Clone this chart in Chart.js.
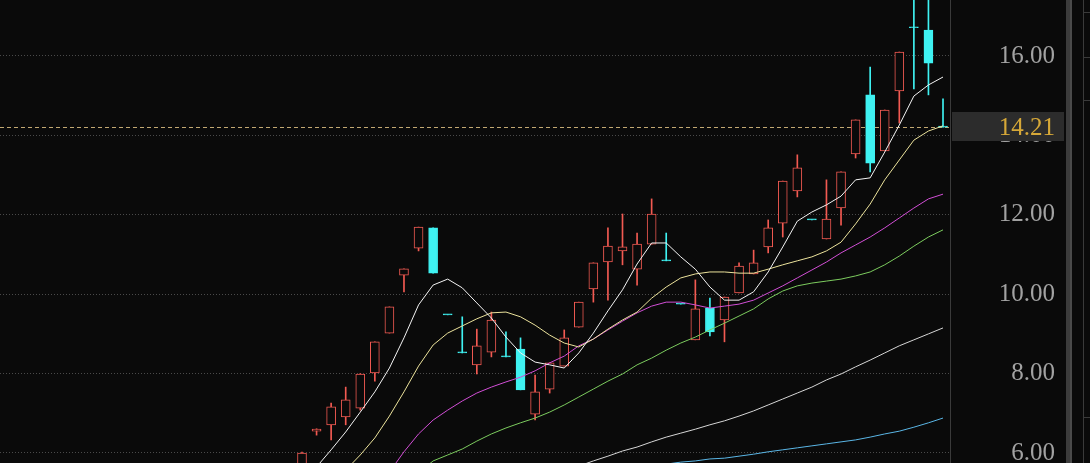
<!DOCTYPE html>
<html><head><meta charset="utf-8">
<script src="https://cdn.jsdelivr.net/npm/chart.js@4"></script>
<style>html,body{margin:0;padding:0;background:#0a0a0a;overflow:hidden}canvas{display:block}</style>
</head><body>
<canvas id="c" width="1090" height="463"></canvas>
<script>
// ---- data ----
const days = [0,1,2,3,4,5,6,7,8,9,10,11,12,13,14,15,16,17,18,19,20,21,22,23,24,25,26,27,28,29,30,31,32,33,34,35,36,37,38,39,40,41,42,43,44];
const opens  = [5.62,6.55,6.71,6.91,7.13,8.02,9.02,10.48,11.16,11.67,9.48,8.52,8.22,8.54,8.42,8.62,6.98,7.61,8.19,9.17,10.13,10.81,11.09,10.63,11.26,10.84,9.75,8.85,9.65,9.35,10.03,10.51,11.19,11.79,12.60,11.87,11.39,12.17,13.53,15.02,13.61,15.12,16.71,16.65,14.21];
const highs  = [6.02,6.61,7.26,7.66,8.00,8.80,9.68,10.64,11.69,11.67,9.48,9.43,9.12,9.55,9.05,8.90,7.96,8.27,9.10,9.80,10.79,11.67,12.02,11.54,12.40,11.54,9.75,10.36,9.90,9.93,10.79,11.11,11.87,12.85,13.51,11.87,12.88,13.08,14.39,15.72,14.64,16.10,17.80,17.80,14.92];
const lows   = [5.55,6.45,6.33,6.71,7.08,7.81,9.02,10.06,11.09,10.53,9.48,8.52,7.99,8.42,8.42,7.59,6.83,7.51,8.19,9.17,9.80,9.85,10.74,10.23,11.26,10.84,9.75,8.85,8.95,8.80,10.03,10.51,11.04,11.44,12.45,11.87,11.39,11.74,13.43,13.08,13.61,14.31,15.17,15.02,14.21];
const closes = [6.00,6.60,7.16,7.34,7.99,8.80,9.68,10.64,11.69,10.53,9.48,8.52,8.70,9.35,8.42,7.59,7.54,8.27,8.90,9.80,10.79,11.21,11.19,11.26,12.02,10.84,9.75,9.63,9.05,9.93,10.71,10.79,11.67,12.85,13.18,11.87,11.89,13.08,14.39,13.30,14.64,16.10,16.71,15.82,14.21];

const ma5   = [5.19,5.65,6.08,6.53,7.03,7.54,8.14,8.90,9.73,10.23,10.38,10.16,9.78,9.40,8.92,8.52,8.29,8.22,8.14,8.52,9.02,9.58,10.11,10.76,11.29,11.29,10.94,10.63,10.18,9.85,9.85,10.06,10.56,11.19,11.84,12.07,12.25,12.47,12.88,12.93,13.58,14.26,14.99,15.27,15.47];
const ma10  = [null,null,5.14,5.57,5.95,6.38,6.93,7.54,8.19,8.72,9.02,9.20,9.38,9.53,9.55,9.43,9.22,8.97,8.77,8.67,8.87,9.12,9.35,9.55,9.90,10.18,10.41,10.51,10.56,10.56,10.53,10.53,10.63,10.74,10.84,10.94,11.09,11.31,11.77,12.27,12.88,13.38,13.88,14.11,14.24];
const ma20  = [null,null,null,null,4.61,5.07,5.52,6.03,6.48,6.83,7.08,7.31,7.51,7.66,7.79,7.91,8.07,8.27,8.44,8.70,8.87,9.10,9.32,9.53,9.70,9.80,9.80,9.73,9.65,9.70,9.75,9.85,10.03,10.21,10.41,10.61,10.81,11.04,11.24,11.44,11.67,11.92,12.17,12.40,12.52];
const ma30  = [null,null,null,null,null,null,null,null,5.50,5.80,5.95,6.10,6.30,6.48,6.63,6.76,6.88,7.03,7.21,7.41,7.61,7.81,7.99,8.22,8.39,8.59,8.77,8.92,9.10,9.27,9.45,9.63,9.88,10.08,10.21,10.28,10.33,10.38,10.46,10.56,10.74,10.96,11.21,11.44,11.62];
const ma60  = [null,null,null,null,null,null,null,null,null,null,null,null,null,null,null,null,null,5.42,5.55,5.67,5.80,5.92,6.05,6.15,6.28,6.40,6.50,6.60,6.71,6.81,6.93,7.06,7.21,7.36,7.51,7.66,7.84,7.99,8.17,8.34,8.52,8.70,8.85,9.00,9.15];
const ma120 = [null,null,null,null,null,null,null,null,null,null,null,null,null,null,null,null,null,null,null,null,null,null,null,5.52,5.62,5.72,5.77,5.80,5.85,5.87,5.92,5.97,6.03,6.08,6.13,6.18,6.23,6.28,6.33,6.40,6.48,6.55,6.65,6.76,6.88];

const yTicks = [6, 8, 10, 12, 14, 16];
const lastPrice = closes[closes.length - 1];

// ---- styles ----
const BG = '#0a0a0a', RED = '#f25a52', CYAN = '#3ff2f2';
const AXIS_FONT = {family: 'Liberation Serif', size: 25};
const isUp = i => closes[i] > opens[i];

const wickData = days.map((d, i) => ({x: d, y: [lows[i], highs[i]]}));
const bodyData = days.map((d, i) => ({x: d, y: [opens[i], closes[i]]}));
const lineData = arr => days.map((d, i) => ({x: d, y: arr[i]}));
const mkLine = (arr, color) => ({type: 'line', data: lineData(arr), borderColor: color, borderWidth: 1,
  pointRadius: 0, tension: 0, order: 0, spanGaps: false});

const decor = {
  id: 'decor',
  beforeDraw(chart) {
    const c = chart.ctx; c.save(); c.fillStyle = BG; c.fillRect(0, 0, chart.width, chart.height); c.restore();
  },
  beforeDatasetsDraw(chart) {
    const c = chart.ctx, a = chart.chartArea, y = Math.round(chart.scales.y.getPixelForValue(lastPrice)) + 0.5;
    c.save(); c.strokeStyle = '#c2a872'; c.lineWidth = 1; c.setLineDash([4, 3]);
    c.beginPath(); c.moveTo(a.left, y); c.lineTo(a.right, y); c.stroke(); c.restore();
  },
  afterDraw(chart) {
    const c = chart.ctx, a = chart.chartArea, sy = chart.scales.y, y = sy.getPixelForValue(lastPrice);
    c.save();
    c.fillStyle = '#2c2c2c';
    c.fillRect(a.right + 2, Math.round(y) - 15, 112, 29);
    c.font = AXIS_FONT.size + 'px ' + AXIS_FONT.family;
    c.fillStyle = '#d6a838'; c.textAlign = 'right'; c.textBaseline = 'middle';
    c.fillText(lastPrice.toFixed(2), sy.right, y + 1);
    // right side frame decorations
    c.fillStyle = '#3c3c3c'; c.fillRect(1066, 0, 6, chart.height);
    c.fillStyle = '#4a4a4a'; c.fillRect(1070, 0, 2, chart.height);
    c.strokeStyle = '#3a3a3a'; c.lineWidth = 1;
    c.beginPath(); c.moveTo(1083.5, 0); c.lineTo(1083.5, chart.height);
    [12, 57, 100, 417].forEach(v => { c.moveTo(1083, v + 0.5); c.lineTo(1090, v + 0.5); });
    c.stroke();
    c.restore();
  }
};

new Chart(document.getElementById('c'), {
  type: 'bar',
  data: {
    datasets: [
      {type: 'bar', data: wickData, backgroundColor: ctx => isUp(ctx.dataIndex) ? RED : CYAN,
       borderWidth: 0, barThickness: 1, grouped: false, order: 3},
      {type: 'bar', data: bodyData, backgroundColor: ctx => isUp(ctx.dataIndex) ? BG : CYAN,
       borderColor: ctx => isUp(ctx.dataIndex) ? RED : CYAN, borderWidth: 1, borderSkipped: false,
       barThickness: 9, grouped: false, minBarLength: 1, order: 2},
      mkLine(ma5, '#f4f4f4'),
      mkLine(ma10, '#ece39c'),
      mkLine(ma20, '#d24ed6'),
      mkLine(ma30, '#7ccc5e'),
      mkLine(ma60, '#d6d6d6'),
      mkLine(ma120, '#5ab6e6')
    ]
  },
  options: {
    responsive: false, devicePixelRatio: 1, animation: false,
    layout: {padding: {left: 0, top: 0, bottom: 0, right: 35}},
    plugins: {legend: {display: false}, tooltip: {enabled: false}},
    scales: {
      x: {type: 'linear', min: -20.73, max: 44.48, offset: false, display: false},
      y: {
        position: 'right', min: 5.748, max: 17.41,
        afterBuildTicks: s => { s.ticks = yTicks.map(v => ({value: v})); },
        afterFit: s => { s.width = 105; s.paddingTop = 0; s.paddingBottom = 0; },
        grid: {color: '#4a4a4a', lineWidth: 1, drawTicks: false, borderDash: [1, 2]},
        border: {display: true, color: '#3a3a3a', width: 1, dash: [1, 2]},
        ticks: {color: '#a2a2a2', font: AXIS_FONT, crossAlign: 'far', padding: 10,
                callback: v => Number(v).toFixed(2)}
      }
    }
  },
  plugins: [decor]
});
</script>
</body></html>
